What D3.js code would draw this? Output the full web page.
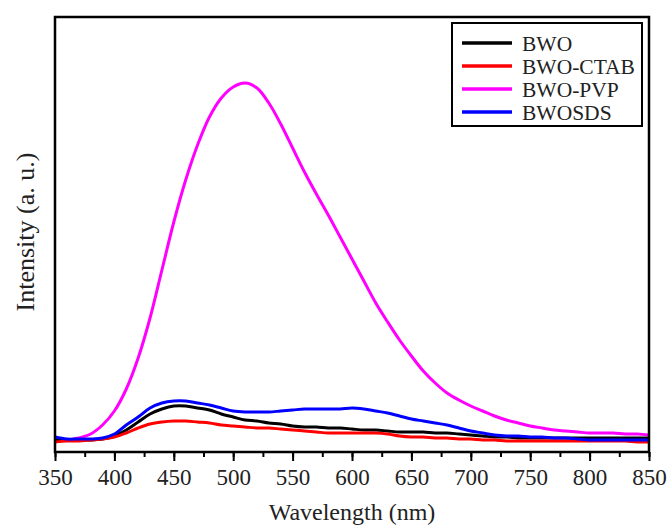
<!DOCTYPE html>
<html><head><meta charset="utf-8">
<script src="https://cdn.jsdelivr.net/npm/d3@7"></script>
<style>body{margin:0;background:#fff;}svg{display:block;}</style>
</head><body>
<svg id="chart" width="668" height="528"></svg>
<script>
const wavelengths = d3.range(350, 851, 10);
const bwo = [12,12,12,12,13,16,22,30,38,43,46,46,44,42,38,35,32,31,29,28,26,25,25,24,24,23,22,22,21,20,20,20,19,19,18,17,16,15,15,14,14,14,14,14,14,14,14,14,14,14,14];
const bwoCtab = [10,11,11,12,13,15,19,24,28,30,31,31,30,29,27,26,25,24,24,23,22,21,20,19,19,19,19,19,18,16,15,15,14,14,13,13,12,12,11,11,11,11,11,11,11,11,11,11,11,10,10];
const bwoPvp = [12,12,14,18,27,41,63,94,134,182,230,272,307,335,354,365,369,364,349,328,304,280,258,237,215,193,171,149,130,112,96,81,69,59,52,46,41,36,32,29,26,24,22,21,20,19,19,19,18,18,17];
const bwoSds = [15,13,13,13,14,18,27,35,44,49,51,51,49,47,44,41,40,40,40,41,42,43,43,43,43,44,43,41,39,36,33,31,29,27,24,21,19,17,16,16,15,15,14,14,13,12,12,12,12,12,12];
const seriesNames = ["BWO","BWO-CTAB","BWO-PVP","BWOSDS"];
const seriesValues = [bwo, bwoCtab, bwoPvp, bwoSds];
const seriesColors = ["#000000","#ff0000","#ff00ff","#0000ff"];
const xTicks = d3.range(350, 851, 50);
const xMinorTicks = d3.range(350, 851, 25);

const svg = d3.select("#chart");
const L = 55, R = 649, T = 17, B = 452;
const x = d3.scaleLinear().domain([350, 850]).range([L, R]);
const y = d3.scaleLinear().domain([0, 435]).range([B, T]);
const font = "'Liberation Serif','Times New Roman',serif";

// lines
const line = d3.line().x((d,i)=>x(wavelengths[i])).y(d=>y(d)).curve(d3.curveCatmullRom.alpha(0.5));
const order = [2,0,1,3];
order.forEach(k=>{
  svg.append("path").datum(seriesValues[k])
    .attr("d", line).attr("fill","none")
    .attr("stroke", seriesColors[k]).attr("stroke-width", 3)
    .attr("stroke-linejoin","round");
});

// minor ticks
svg.append("g").attr("transform",`translate(0,${B})`)
  .call(d3.axisBottom(x).tickValues(xMinorTicks).tickSize(5).tickFormat(""))
  .call(g=>{g.select(".domain").remove(); g.selectAll("line").attr("stroke","#000").attr("stroke-width",2);});
// major ticks
const ax = svg.append("g").attr("transform",`translate(0,${B})`)
  .call(d3.axisBottom(x).tickValues(xTicks).tickSize(9).tickPadding(8).tickFormat(d3.format("d")));
ax.select(".domain").remove();
ax.selectAll("line").attr("stroke","#000").attr("stroke-width",2);
ax.selectAll("text").attr("font-family",font).attr("font-size",23).attr("fill","#222");

// frame
svg.append("rect").attr("x",L).attr("y",T).attr("width",R-L).attr("height",B-T)
  .attr("fill","none").attr("stroke","#000").attr("stroke-width",2.5);

// axis titles
svg.append("text").attr("x",(L+R)/2).attr("y",520).attr("text-anchor","middle")
  .attr("font-family",font).attr("font-size",24).attr("fill","#222").text("Wavelength (nm)");
svg.append("text").attr("transform","translate(34,232) rotate(-90)").attr("text-anchor","middle")
  .attr("font-family",font).attr("font-size",26).attr("fill","#222").text("Intensity (a. u.)");

// legend
const lg = svg.append("g");
lg.append("rect").attr("x",452).attr("y",23).attr("width",190).attr("height",103)
  .attr("fill","#fff").attr("stroke","#000").attr("stroke-width",2);
seriesNames.forEach((n,i)=>{
  const yy = 43 + i*23;
  lg.append("line").attr("x1",462).attr("x2",512).attr("y1",yy).attr("y2",yy)
    .attr("stroke",seriesColors[i]).attr("stroke-width",3.5);
  lg.append("text").attr("x",522).attr("y",yy).attr("dy","0.35em")
    .attr("font-family",font).attr("font-size",21.5).attr("fill","#222").text(n);
});
</script>
</body></html>
